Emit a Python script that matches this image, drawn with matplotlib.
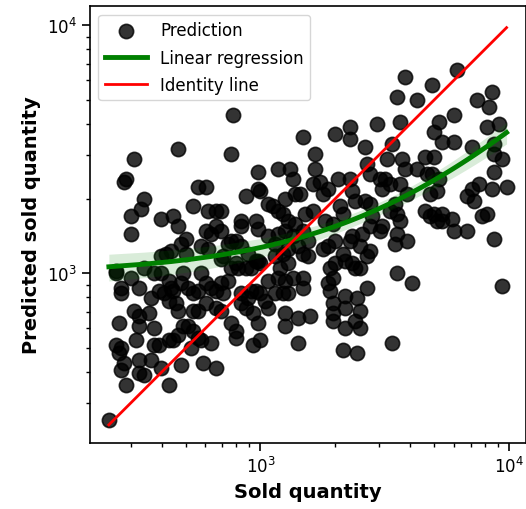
import numpy as np
import matplotlib
matplotlib.use('Agg')
import matplotlib.pyplot as plt

# values, stored as log10 of the quantities
sold_log10 = [
    2.39, 2.42, 2.42, 2.44, 2.44, 2.43, 2.42, 2.43, 2.44, 2.44, 2.45, 2.46, 2.45, 2.46,
    2.49, 2.48, 2.48, 2.48, 2.51, 2.49, 2.51, 2.50, 2.51, 2.51, 2.53, 2.52, 2.53, 2.51,
    2.55, 2.56, 2.57, 2.57, 2.56, 2.59, 2.60, 2.63, 2.60, 2.53, 2.57, 2.60, 2.63, 2.59,
    2.61, 2.64, 2.65, 2.63, 2.66, 2.60, 2.62, 2.64, 2.65, 2.67, 2.67, 2.63, 2.65, 2.67,
    2.68, 2.67, 2.69, 2.68, 2.70, 2.70, 2.69, 2.68, 2.71,
    2.73, 2.75, 2.78, 2.79, 2.82, 2.84, 2.78, 2.80, 2.82, 2.84, 2.76, 2.79, 2.84, 2.85,
    2.73, 2.75, 2.76, 2.78, 2.80, 2.82, 2.73, 2.75, 2.78, 2.82, 2.71, 2.73, 2.75, 2.76,
    2.72, 2.77, 2.82, 2.80, 2.84, 2.85, 2.87, 2.84, 2.88, 2.89, 2.88, 2.90, 2.90, 2.87,
    2.88, 2.88, 2.90,
    2.92, 2.92, 2.94, 2.99, 2.99, 3.00, 2.98, 2.99, 2.95, 2.98, 3.00, 2.92, 2.90, 2.91,
    2.94, 2.96, 2.99, 2.92, 2.95, 2.98, 3.00, 3.02, 3.03, 2.92, 2.94, 2.97, 2.99, 3.03,
    2.97, 3.00, 2.96,
    3.03, 3.07, 3.12, 3.13, 3.05, 3.07, 3.09, 3.11, 3.14, 3.10, 3.14, 3.16, 3.07, 3.10,
    3.13, 3.03, 3.06, 3.09, 3.11, 3.06, 3.08, 3.11, 3.07, 3.10, 3.13, 3.11, 3.09, 3.06,
    3.10, 3.10, 3.15, 3.15, 3.20, 3.17, 3.17, 3.17, 3.15, 3.17, 3.19, 3.19, 3.17, 3.18,
    3.21,
    3.22, 3.22, 3.21, 3.24, 3.25, 3.27, 3.26, 3.29, 3.25, 3.27, 3.28, 3.29, 3.30, 3.27,
    3.28, 3.29, 3.29, 3.29, 3.30, 3.31, 3.30, 3.32, 3.33, 3.33, 3.34, 3.33, 3.34, 3.34,
    3.34,
    3.36, 3.36, 3.36, 3.37, 3.38, 3.37, 3.36, 3.37, 3.38, 3.40, 3.39, 3.39, 3.40, 3.40,
    3.38, 3.41, 3.40, 3.43, 3.44, 3.42, 3.43, 3.44, 3.43, 3.42, 3.44, 3.45, 3.44,
    3.47, 3.48, 3.50, 3.52, 3.49, 3.51, 3.53, 3.48, 3.49, 3.52, 3.54, 3.56, 3.55, 3.56,
    3.57, 3.58, 3.55, 3.56, 3.55, 3.54, 3.59, 3.55, 3.61, 3.53, 3.58, 3.63, 3.59,
    3.63, 3.66, 3.67, 3.70, 3.69, 3.72, 3.69, 3.70, 3.72, 3.73, 3.78, 3.78, 3.79, 3.68,
    3.71, 3.66, 3.68, 3.70, 3.71, 3.73, 3.73, 3.77, 3.78, 3.83, 3.83, 3.85, 3.86, 3.85,
    3.87,
    3.88, 3.93, 3.89, 3.91, 3.91, 3.92, 3.93, 3.94, 3.96, 3.94, 3.94, 3.97, 3.94, 3.97,
    3.99,
]
pred_log10 = [
    2.41, 3.01, 3.00, 2.94, 2.92, 2.80, 2.71, 2.68, 2.70, 2.61, 2.64, 2.55, 3.37, 3.38,
    3.46, 3.16, 3.23, 2.98, 2.94, 2.85, 2.79, 2.73, 2.65, 2.60, 2.59, 3.26, 3.30, 2.83,
    2.84, 2.90, 2.78, 2.71, 2.65, 2.71, 2.62, 2.55, 3.22, 3.02, 3.00, 3.00, 2.97, 2.93,
    2.92, 2.94, 2.93, 2.89, 2.88, 3.07, 3.08, 3.09, 3.23, 3.19, 3.50, 2.73, 2.73, 2.75,
    2.63, 2.85, 2.79, 3.12, 3.14, 3.08, 3.00, 2.96, 2.94,
    3.27, 3.35, 3.35, 3.25, 3.25, 3.25, 3.17, 3.16, 3.19, 3.17, 3.11, 3.10, 3.06, 3.07,
    2.92, 2.93, 3.00, 2.96, 2.94, 2.93, 2.85, 2.85, 2.88, 2.86, 2.79, 2.77, 2.74, 2.73,
    2.70, 2.64, 2.62, 2.72, 2.85, 2.92, 2.97, 2.96, 3.48, 3.64, 2.80, 2.77, 2.74, 3.12,
    3.13, 3.02, 3.04,
    3.21, 3.19, 3.31, 3.41, 3.34, 3.33, 3.21, 3.18, 3.08, 3.05, 3.04, 3.11, 3.13, 3.02,
    3.02, 3.02, 3.05, 2.92, 2.90, 2.93, 2.92, 2.89, 2.97, 2.88, 2.86, 2.84, 2.80, 2.86,
    2.71, 2.73, 2.93,
    3.28, 3.42, 3.42, 3.38, 3.27, 3.25, 3.24, 3.21, 3.20, 3.30, 3.32, 3.32, 3.16, 3.17,
    3.15, 3.15, 3.12, 3.08, 3.10, 3.07, 3.02, 3.04, 2.98, 2.97, 2.98, 2.92, 2.92, 2.92,
    2.84, 2.79, 2.82, 2.72, 2.83, 3.55, 2.98, 2.94, 3.11, 3.08, 3.07, 3.13, 3.17, 3.24,
    3.25,
    3.48, 3.42, 3.36, 3.37, 3.32, 3.34, 3.21, 3.20, 3.10, 3.11, 3.02, 2.98, 3.04, 2.96,
    2.93, 2.88, 2.84, 2.81, 3.56, 3.38, 3.13, 3.27, 3.24, 3.08, 3.05, 2.69, 2.91, 2.86,
    2.78,
    3.59, 3.54, 3.38, 3.33, 3.29, 3.15, 3.13, 3.04, 3.02, 3.02, 2.68, 2.90, 2.85, 2.78,
    2.81, 3.16, 3.11, 3.07, 3.09, 3.51, 3.44, 3.40, 2.94, 3.29, 3.28, 3.23, 3.19,
    3.60, 3.38, 3.38, 3.36, 3.34, 3.46, 3.52, 3.17, 3.19, 3.25, 3.28, 3.61, 3.71, 3.36,
    3.46, 3.42, 3.24, 3.21, 3.16, 3.12, 3.13, 3.00, 2.96, 2.72, 3.79, 3.70, 3.32,
    3.42, 3.47, 3.40, 3.47, 3.40, 3.38, 3.76, 3.57, 3.61, 3.53, 3.53, 3.64, 3.82, 3.32,
    3.33, 3.25, 3.23, 3.24, 3.21, 3.24, 3.21, 3.22, 3.17, 3.17, 3.31, 3.34, 3.29, 3.51,
    3.70,
    3.36, 3.34, 3.23, 3.24, 3.59, 3.67, 3.73, 3.52, 3.60, 3.48, 3.41, 3.46, 3.14, 2.95,
    3.35,
]

sold = 10 ** np.array(sold_log10)
pred = 10 ** np.array(pred_log10)

# ordinary least squares in linear space with a 95% confidence band
b, a = np.polyfit(sold, pred, 1)
n = len(sold)
resid = pred - (a + b * sold)
s = np.sqrt(np.sum(resid ** 2) / (n - 2))
sxx = np.sum((sold - sold.mean()) ** 2)
grid = np.linspace(sold.min(), sold.max(), 100)
fit = a + b * grid
se = s * np.sqrt(1 / n + (grid - sold.mean()) ** 2 / sxx)
band = 1.97 * se

plt.rcParams['font.family'] = 'DejaVu Sans'
fig = plt.figure(figsize=(5.26, 5.10), dpi=100)
ax = fig.add_axes([0.171, 0.130, 0.829, 0.8555])

ax.scatter(sold, pred, s=105, c='black', alpha=0.8, edgecolors='black',
           linewidths=1.2, label='Prediction', zorder=2)
ax.fill_between(grid, fit - band, fit + band, color='green', alpha=0.15,
                linewidth=0, zorder=3)
ax.plot(grid, fit, color='green', lw=3.5, label='Linear regression', zorder=4)
ident = np.array([sold.min(), sold.max()])
ax.plot(ident, ident, color='red', lw=2, label='Identity line', zorder=5)

ax.set_xscale('log')
ax.set_yscale('log')
ax.set_xlim(206, 11700)
ax.set_ylim(208, 11900)

ax.set_xlabel('Sold quantity', fontsize=14, fontweight='bold')
ax.set_ylabel('Predicted sold quantity', fontsize=14, fontweight='bold')
ax.tick_params(axis='both', which='major', labelsize=12, length=6, width=1.2)
ax.tick_params(axis='both', which='minor', length=3, width=1)
for sp in ax.spines.values():
    sp.set_linewidth(1.2)

ax.legend(loc='upper left', fontsize=12, markerscale=1.0, handlelength=2.5,
          labelspacing=0.55)

plt.savefig('out.png', dpi=100)
